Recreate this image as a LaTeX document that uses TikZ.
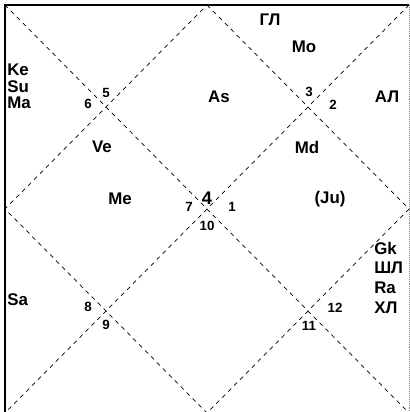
\documentclass[tikz,border=0pt]{standalone}
\usepackage{fontspec}
\setmainfont{Liberation Sans}
\tikzset{
  planet/.style={inner sep=0pt, font=\bfseries\fontsize{12}{14}\selectfont},
  hnum/.style={inner sep=0pt, font=\bfseries\fontsize{9.5}{11}\selectfont},
  hline/.style={dashed, line width=0.5pt}
}
\begin{document}
\begin{tikzpicture}[x=0.25mm, y=-0.25mm]
\useasboundingbox (0,0) rectangle (410,412);
% ---------- frame and house lines ----------
\coordinate (tl) at (5,5);
\coordinate (tr) at (409,5);
\coordinate (bl) at (5,413);
\coordinate (br) at (409,413);
\coordinate (tm) at (207,5);
\coordinate (lm) at (5,209);
\coordinate (rm) at (409,209);
\coordinate (bm) at (207,413);
\draw[line width=0.55mm] (bl) -- (tl) -- (tr);
\draw[gray, densely dotted, line width=0.4pt] (tr) -- (br);
\draw[hline] (tl) -- (br);
\draw[hline] (tr) -- (bl);
\draw[hline] (tm) -- (rm) -- (bm) -- (lm) -- cycle;
% ---------- house numbers ----------
\node[hnum] (n5) at (106,93) {5};
\node[hnum] (n6) at (88,104) {6};
\node[hnum] (n3) at (309,92) {3};
\node[hnum] (n2) at (333,105) {2};
\node[hnum] (n7) at (189,207) {7};
\node[hnum, font=\bfseries\fontsize{13}{15}\selectfont] (n4) at (207,198) {4};
\node[hnum] (n1) at (232,207) {1};
\node[hnum] (n10) at (207,226) {10};
\node[hnum] (n8) at (88,307) {8};
\node[hnum] (n9) at (106,325) {9};
\node[hnum] (n12) at (335,308) {12};
\node[hnum] (n11) at (309,326) {11};
% ---------- planets ----------
\node[planet] (gl) at (270,20) {ГЛ};
\node[planet] (mo) at (304,47) {Mo};
\node[planet] (as) at (219,97) {As};
\node[planet] (al) at (387,97) {АЛ};
\node[planet] (md) at (307,147) {Md};
\node[planet] (ju) at (330,199) {(Ju)};
\node[planet] (ve) at (102,147) {Ve};
\node[planet] (me) at (120,199) {Me};
\node[planet, anchor=west] (ke) at (7,70) {Ke};
\node[planet, anchor=west] (su) at (7,87) {Su};
\node[planet, anchor=west] (ma) at (7,103) {Ma};
\node[planet, anchor=west] (sa) at (7,300) {Sa};
\node[planet, anchor=west] (gk) at (374,248) {Gk};
\node[planet, anchor=west] (shl) at (374,268) {ШЛ};
\node[planet, anchor=west] (ra) at (374,288) {Ra};
\node[planet, anchor=west] (khl) at (374,308) {ХЛ};
\end{tikzpicture}
\end{document}
